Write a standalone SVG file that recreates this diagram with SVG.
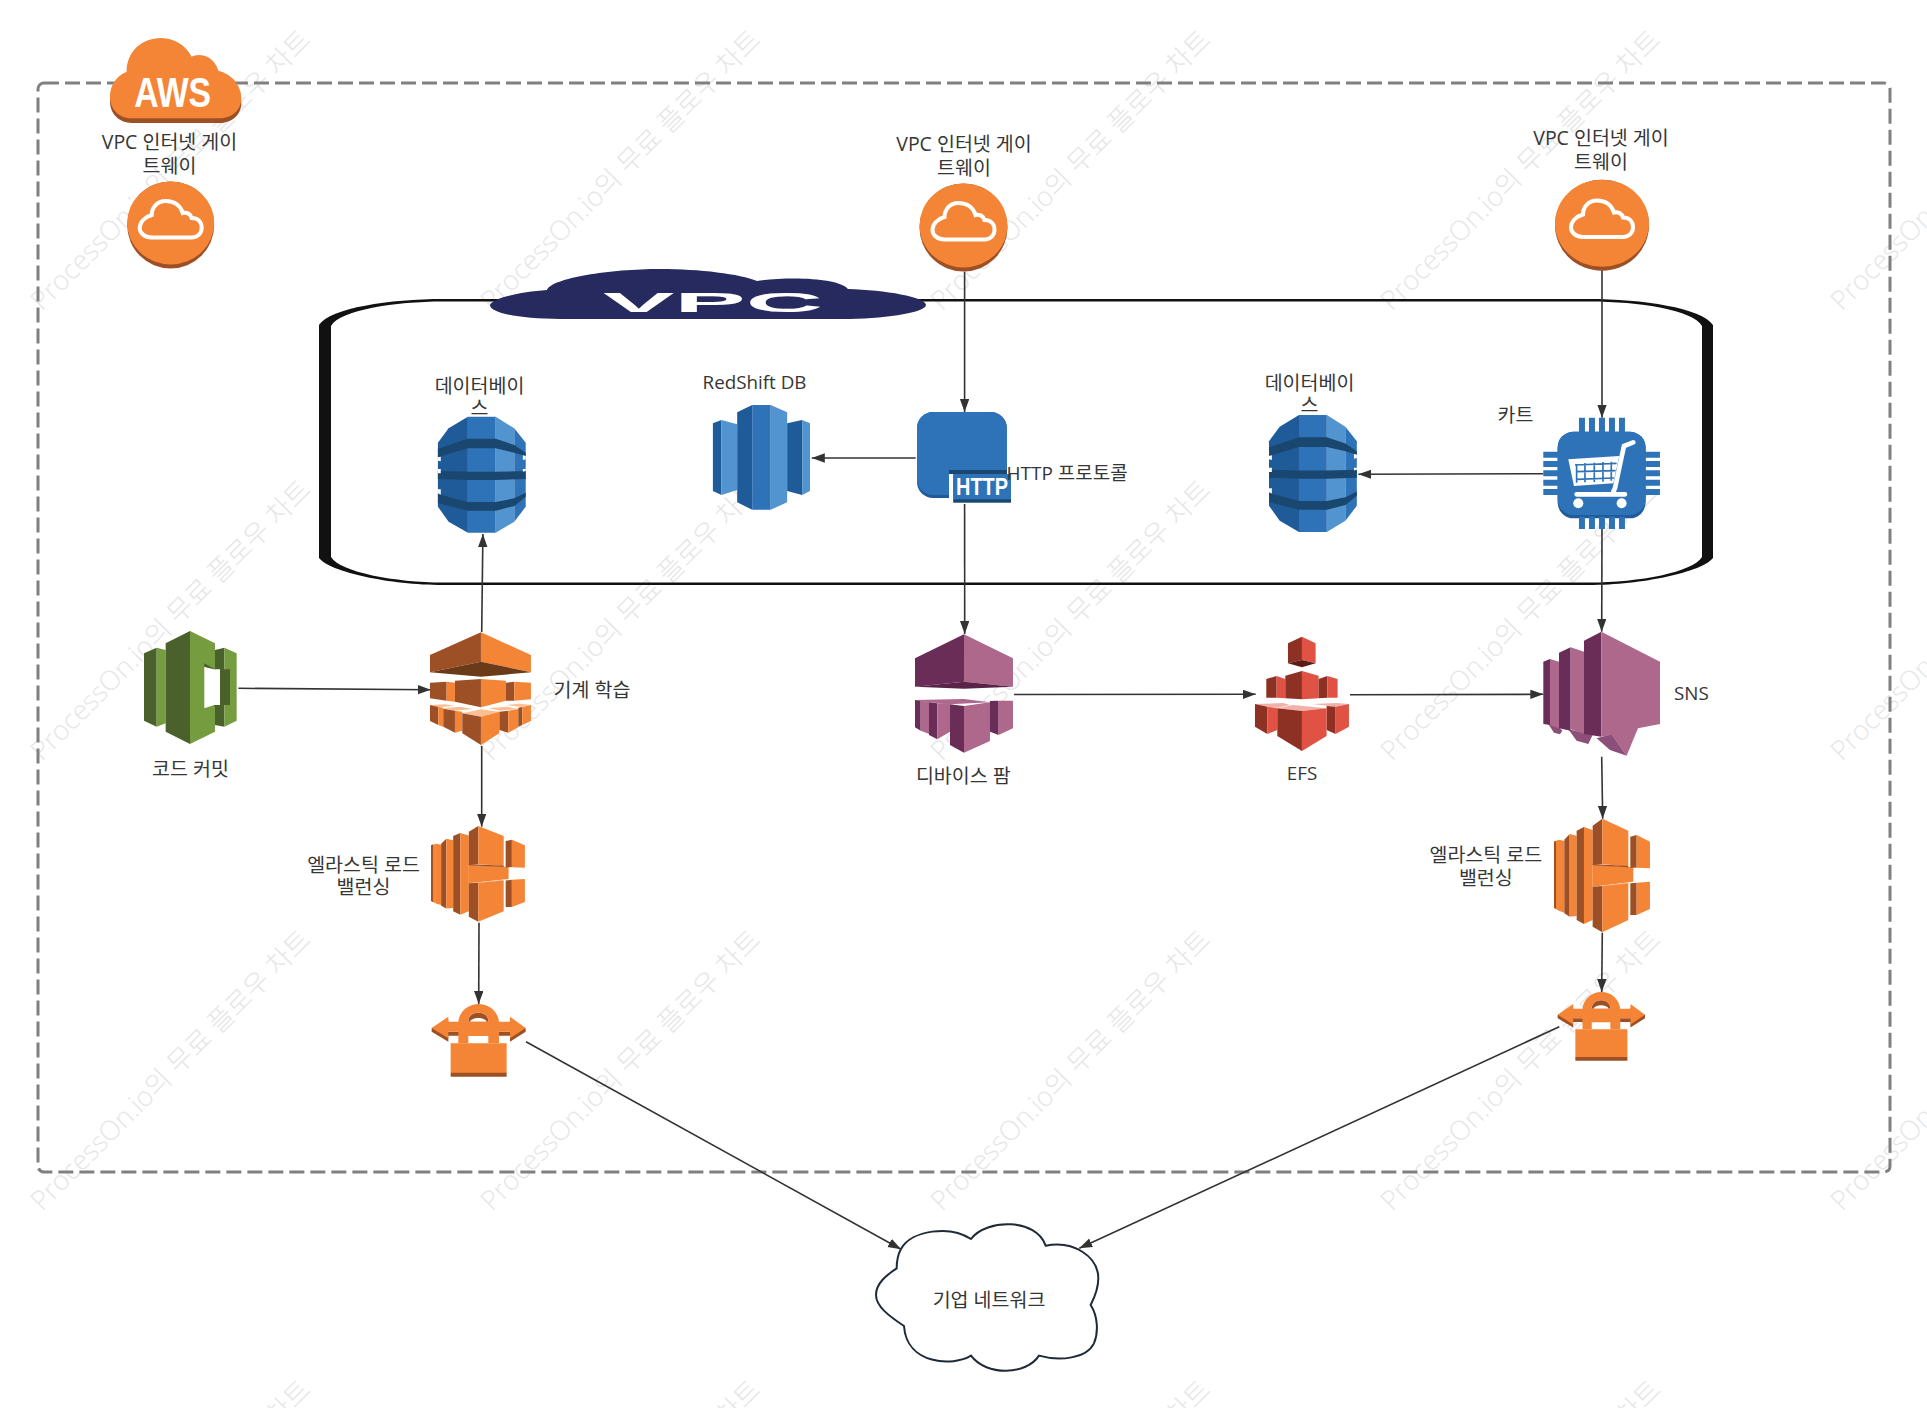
<svg xmlns="http://www.w3.org/2000/svg" width="1927" height="1408" viewBox="0 0 1927 1408">
<style>
text{font-family:"Open Sans","Noto Sans CJK KR","Noto Sans",sans-serif;font-size:19.5px;fill:#363636;text-anchor:middle}
text.lat{font-size:18.8px}
text.wm{font-size:27.2px;fill:#e6e6e6;text-anchor:start;font-weight:300}
text.s{text-anchor:start}
.conn line{stroke:#333;stroke-width:1.6;fill:none;marker-end:url(#arrow)}
.ol{fill:#F58536}.od{fill:#9D5025}.ox{fill:#6B3A19}.op{fill:#FBBF93}
.bl{fill:#5294CF}.bm{fill:#2E73B8}.bd{fill:#205B99}.bx{fill:#1A476F}
.pl{fill:#AD688B}.pd{fill:#692D57}.px{fill:#5A2348}.pt{fill:#8C4F7A}
.gl{fill:#759C3E}.gd{fill:#4B612C}
.rl{fill:#E05243}.rd{fill:#8C3123}.rx{fill:#5B1D13}.rp{fill:#F2B0A9}
.w{fill:#fff}
</style>
<defs>
<marker id="arrow" markerUnits="userSpaceOnUse" markerWidth="14" markerHeight="10" refX="13" refY="4.7" orient="auto"><path d="M0,0L13,4.7L0,9.4Z" fill="#333"/></marker>
<g id="gw-cloud"><path d="M-19,12.5H21C27,12.5 31,8 31,3C31,-3 27,-7 21,-7C20,-11 16,-13 12,-12C10,-19 4,-24 -5,-24C-14,-24 -19,-17 -19,-10C-26,-8 -31,-3 -31,3C-31,8 -26,12.5 -19,12.5Z" fill="none" stroke="#fff" stroke-width="4"/></g>
<g id="db">
<path class="bm" d="M84,0H162V348H84Z"/>
<path class="bd" d="M84,0L30,35L0,78V270L30,315L84,348Z"/>
<path class="bl" d="M162,0L214,35V315L162,348Z"/>
<path class="bm" d="M214,35L246,78V270L214,315Z"/>
<path class="bx" d="M0,96L84,66L162,66L214,85L246,108V118L214,108L162,95L84,95L0,122Z"/>
<path class="bx" d="M0,163L84,165H162L246,163V187L162,190H84L0,187Z"/>
<path class="bx" d="M0,232L84,256H162L214,245L246,228V240L214,268L162,282H84L0,260Z"/>
<path class="w" d="M0,122L8,120L8,134L0,132ZM0,157L8,157V170L0,170ZM0,218L8,218L8,234L0,230ZM246,118L238,116V130L246,128ZM246,157L238,157V165L246,163Z"/>
</g>
<g id="elb">
<path class="ol" d="M462,695L477,689L477,902L462,893Z"/>
<path class="ol" d="M477,689L493,693V908L477,902Z"/>
<path class="od" d="M468,692L462,695V893L468,897Z"/>
<path class="od" d="M493,689L509,672V920L493,910Z"/>
<path class="ol" d="M509,672L530,677V918L509,920Z"/>
<path class="od" d="M530,662L552,651V942L530,930Z"/>
<path class="ol" d="M552,651L578,660V930L552,942Z"/>
<path class="od" d="M578,647L607,626V762L578,764Z"/>
<path class="ol" d="M607,626L685,662V770L607,762Z"/>
<path class="ol" d="M578,764L700,772V815L578,830Z"/>
<path class="od" d="M578,762L685,768V772L578,766Z"/>
<path class="op" d="M578,830L685,818V821L607,829Z"/>
<path class="od" d="M578,830L607,828V967L578,950Z"/>
<path class="ol" d="M607,828L685,820V930L607,967Z"/>
<path class="od" d="M691,680L710,675V773L691,773Z"/>
<path class="ol" d="M710,675L750,695V775L710,773Z"/>
<path class="od" d="M691,820L710,818V915L691,915Z"/>
<path class="ol" d="M710,818L750,815V897L710,915Z"/>
</g>
<g id="lock">
<path class="od" d="M95,295L145,271V335L95,305ZM377,295L330,271V335L377,305ZM145,305H330V317H145Z"/>
<path class="ol" d="M95,294L145,260V275H330V260L377,294L330,325V305H145V325Z"/>
<path class="od" d="M205,275C205,255 220,248 235,248C250,248 265,255 265,275Z"/>
<path class="w" d="M210,275C216,260 254,260 260,275Z"/>
<path class="ol" fill-rule="evenodd" d="M175,340V280C175,245 205,222 236,222C267,222 297,245 297,280V340H265V318H205V340ZM205,275H265C265,255 250,248 235,248C220,248 205,255 205,275Z"/>
<path class="ol" d="M152,340H320V430H152Z"/>
<path class="od" d="M152,428H320V440H152Z"/>
</g>
</defs>

<g id="watermark">
<text class="wm" x="42" y="312" transform="rotate(-45 42 312)">ProcessOn.io의 무료 플로우 차트</text>
<text class="wm" x="492" y="312" transform="rotate(-45 492 312)">ProcessOn.io의 무료 플로우 차트</text>
<text class="wm" x="942" y="312" transform="rotate(-45 942 312)">ProcessOn.io의 무료 플로우 차트</text>
<text class="wm" x="1392" y="312" transform="rotate(-45 1392 312)">ProcessOn.io의 무료 플로우 차트</text>
<text class="wm" x="1842" y="312" transform="rotate(-45 1842 312)">ProcessOn.io의 무료 플로우 차트</text>
<text class="wm" x="42" y="762" transform="rotate(-45 42 762)">ProcessOn.io의 무료 플로우 차트</text>
<text class="wm" x="492" y="762" transform="rotate(-45 492 762)">ProcessOn.io의 무료 플로우 차트</text>
<text class="wm" x="942" y="762" transform="rotate(-45 942 762)">ProcessOn.io의 무료 플로우 차트</text>
<text class="wm" x="1392" y="762" transform="rotate(-45 1392 762)">ProcessOn.io의 무료 플로우 차트</text>
<text class="wm" x="1842" y="762" transform="rotate(-45 1842 762)">ProcessOn.io의 무료 플로우 차트</text>
<text class="wm" x="42" y="1212" transform="rotate(-45 42 1212)">ProcessOn.io의 무료 플로우 차트</text>
<text class="wm" x="492" y="1212" transform="rotate(-45 492 1212)">ProcessOn.io의 무료 플로우 차트</text>
<text class="wm" x="942" y="1212" transform="rotate(-45 942 1212)">ProcessOn.io의 무료 플로우 차트</text>
<text class="wm" x="1392" y="1212" transform="rotate(-45 1392 1212)">ProcessOn.io의 무료 플로우 차트</text>
<text class="wm" x="1842" y="1212" transform="rotate(-45 1842 1212)">ProcessOn.io의 무료 플로우 차트</text>
<text class="wm" x="42" y="1662" transform="rotate(-45 42 1662)">ProcessOn.io의 무료 플로우 차트</text>
<text class="wm" x="492" y="1662" transform="rotate(-45 492 1662)">ProcessOn.io의 무료 플로우 차트</text>
<text class="wm" x="942" y="1662" transform="rotate(-45 942 1662)">ProcessOn.io의 무료 플로우 차트</text>
<text class="wm" x="1392" y="1662" transform="rotate(-45 1392 1662)">ProcessOn.io의 무료 플로우 차트</text>
</g>

<rect id="aws-boundary" x="38" y="83" width="1852" height="1089" rx="6" fill="none" stroke="#808080" stroke-width="3" stroke-dasharray="15 6"/>

<g id="vpc-container">
<path fill="#111" fill-rule="evenodd" d="M319,325C330,308 390,299 443,299H1589C1642,299 1702,308 1713,325V558C1702,572 1642,585 1589,585H443C390,585 330,572 319,558ZM331,326C340,310 395,301.5 443,301.5H1589C1640,301.5 1693,310 1702,326V557C1693,572 1640,582.5 1589,582.5H443C395,582.5 340,572 331,557Z"/>
<path fill="#262A5F" d="M490,305C492,298 520,292 547,290C552,278 610,269 660,269C700,269 740,274 757,281C790,276 840,278 848,289C885,290 926,297 926,305C926,312 890,318 850,319H560C520,319 490,313 490,305Z"/>
<text x="713" y="312" style="font-family:'Liberation Sans',sans-serif;font-weight:700;font-size:28px;fill:#fff" textLength="220" lengthAdjust="spacingAndGlyphs">VPC</text>
</g>

<g class="conn" id="connectors">
<line x1="964.6" y1="271.7" x2="964.6" y2="412"/>
<line x1="915.7" y1="458" x2="811.8" y2="458"/>
<line x1="964.6" y1="504" x2="964.7" y2="634"/>
<line x1="1543.3" y1="473.7" x2="1358.3" y2="474.3"/>
<line x1="1602" y1="270" x2="1602" y2="417.7"/>
<line x1="1602" y1="529" x2="1601.7" y2="631.7"/>
<line x1="1601.7" y1="756.7" x2="1602.7" y2="818.7"/>
<line x1="1602.3" y1="932.7" x2="1601.7" y2="992"/>
<line x1="238.3" y1="688.3" x2="430.7" y2="689.7"/>
<line x1="481.7" y1="632" x2="482.9" y2="534"/>
<line x1="481.7" y1="746" x2="481.7" y2="826.7"/>
<line x1="479" y1="922.7" x2="478.7" y2="1004"/>
<line x1="1014" y1="694.5" x2="1255.7" y2="694.3"/>
<line x1="1350" y1="694.7" x2="1543.3" y2="694.3"/>
<line x1="526" y1="1041.7" x2="901" y2="1249.3"/>
<line x1="1559.3" y1="1026.7" x2="1079.3" y2="1248.3"/>
</g>

<g id="node-aws" transform="scale(.3333)">
<path class="od" transform="translate(0,14)" d="M380,215C380,155 425,114 483,114C525,114 560,140 575,170C590,160 640,160 655,212C695,222 724,255 724,295C724,335 690,355 660,355H395C360,355 330,330 330,290C330,255 350,228 380,215Z"/>
<path class="ol" d="M380,215C380,155 425,114 483,114C525,114 560,140 575,170C590,160 640,160 655,212C695,222 724,255 724,295C724,335 690,355 660,355H395C360,355 330,330 330,290C330,255 350,228 380,215Z"/>
<text x="518" y="320" style="font-family:'Liberation Sans',sans-serif;font-weight:700;font-size:130px;fill:#fff" textLength="231" lengthAdjust="spacingAndGlyphs">AWS</text>
</g>

<g id="node-gw1">
<circle class="od" cx="170.7" cy="225" r="43.5"/>
<ellipse class="ol" cx="170.7" cy="223" rx="43.5" ry="41.5"/>
<use href="#gw-cloud" x="170.7" y="225"/>
<text x="169.5" y="148.5">VPC 인터넷 게이</text><text x="169.5" y="172.5">트웨이</text>
</g>
<g id="node-gw2">
<circle class="od" cx="963.5" cy="227.5" r="44"/>
<ellipse class="ol" cx="963.5" cy="225.5" rx="44" ry="42"/>
<use href="#gw-cloud" x="963.5" y="227"/>
<text x="964" y="151">VPC 인터넷 게이</text><text x="964" y="174.5">트웨이</text>
</g>
<g id="node-gw3">
<ellipse class="od" cx="1602" cy="225.3" rx="47" ry="45.5"/>
<ellipse class="ol" cx="1602" cy="223.3" rx="47" ry="43.5"/>
<use href="#gw-cloud" x="1602" y="224.5"/>
<text x="1601" y="145">VPC 인터넷 게이</text><text x="1601" y="168.5">트웨이</text>
</g>

<g id="node-db1">
<use href="#db" transform="translate(437.9,416.7) scale(.357,.3333)"/>
<text x="479.5" y="393">데이터베이</text><text x="479.5" y="414.5">스</text>
</g>
<g id="node-db2">
<use href="#db" transform="translate(1269,415) scale(.357,.336)"/>
<text x="1309.5" y="389.5">데이터베이</text><text x="1309.5" y="412">스</text>
</g>

<g id="node-redshift" transform="translate(712.9,405) scale(.357,.3333)">
<path class="bd" d="M0,55L24,45V270L0,258Z"/>
<path class="bl" d="M24,45L68,58V255L24,270Z"/>
<path class="bd" d="M68,22L110,0V314L68,292Z"/>
<path class="bm" d="M110,0H162V314H110Z"/>
<path class="bl" d="M162,0L208,22V292L162,314Z"/>
<path class="bd" d="M208,55L250,45V270L208,258Z"/>
<path class="bl" d="M250,45L272,55V258L250,270Z"/>
</g>
<text id="label-redshift" class="lat" x="754.5" y="389.3">RedShift DB</text>

<g id="node-http">
<rect class="bd" x="917" y="412" width="89.8" height="86" rx="16"/>
<rect class="bm" x="917" y="412" width="89.8" height="83" rx="16"/>
<rect class="bx" x="949" y="470" width="58" height="4"/>
<rect class="w" x="949" y="474" width="4.2" height="24"/>
<rect class="bm" x="953.2" y="474" width="57.8" height="26"/>
<rect class="bx" x="953.2" y="499.3" width="57.8" height="3.4"/>
<text x="982" y="495" style="font-family:'Liberation Sans',sans-serif;font-weight:700;font-size:23.5px;fill:#fff" textLength="52" lengthAdjust="spacingAndGlyphs">HTTP</text>
<text class="s" x="1006.5" y="480.2" style="font-size:19px">HTTP 프로토콜</text>
</g>

<g id="node-cart">
<g class="bm" transform="translate(1200,360) scale(.3333)">
<rect x="1073" y="215" width="264" height="260" rx="48" class="bd"/>
<rect x="1073" y="215" width="264" height="250" rx="48"/>
<path d="M1137,173h18v45h-18zM1167,173h18v45h-18zM1197,173h18v45h-18zM1227,173h18v45h-18zM1257,173h18v45h-18zM1137,470h18v37h-18zM1167,470h18v37h-18zM1197,470h18v37h-18zM1227,470h18v37h-18zM1257,470h18v37h-18zM1030,275h45v18h-45zM1030,303h45v18h-45zM1030,331h45v18h-45zM1030,359h45v18h-45zM1030,387h45v18h-45zM1335,275h45v18h-45zM1335,303h45v18h-45zM1335,331h45v18h-45zM1335,359h45v18h-45zM1335,387h45v18h-45z"/>
<path class="w" d="M1105,298L1258,288L1240,370L1122,378Z"/>
<path d="M1125,315L1250,310M1128,335L1247,332M1130,358L1242,354M1130,312V368M1155,310V367M1183,308V366M1209,306V365M1234,305V362" fill="none" stroke="#2E73B8" stroke-width="5"/>
<path d="M1300,247L1272,258L1245,385L1240,395M1130,403H1275" fill="none" stroke="#fff" stroke-width="14" stroke-linecap="round"/>
<circle class="w" cx="1135" cy="430" r="15"/><circle class="w" cx="1265" cy="430" r="15"/>
</g>
<text x="1515.5" y="421.7">카트</text>
</g>

<g id="node-codecommit" transform="translate(120,610) scale(.3333)">
<path class="gd" d="M72,130L110,113V350L72,332Z"/>
<path class="gl" d="M110,113L137,120V340L110,350Z"/>
<path class="gd" d="M137,100L210,63V402L137,365Z"/>
<path class="gl" d="M210,63L285,100V365L210,402Z"/>
<path class="gd" d="M285,120L313,113V350L285,345Z"/>
<path class="gl" d="M313,113L350,130V332L313,350Z"/>
<path class="w" d="M253,170L283,178H300V285H283L253,295Z"/>
<path class="gd" d="M253,160L285,178H330V285H283V290L300,285V178H283L253,170Z"/>
</g>
<text id="label-codecommit" x="190.5" y="775.5">코드 커밋</text>

<g id="node-ml" transform="translate(120,610) scale(.3333)">
<path class="od" d="M930,135L1083,67V155L930,187Z"/>
<path class="ol" d="M1083,67L1233,135V187L1083,155Z"/>
<path class="ox" d="M930,187L1083,155L1233,187L1083,200Z"/>
<path class="od" d="M930,218L980,215V272L930,265Z"/><path class="ol" d="M980,215L1005,218V275L980,272Z"/>
<path class="od" d="M1005,212L1083,207V292L1005,275Z"/><path class="ol" d="M1083,207L1158,212V272L1083,292Z"/>
<path class="od" d="M1158,218L1183,215V272L1158,272Z"/><path class="ol" d="M1183,215L1233,218V268L1183,272Z"/>
<path class="op" d="M930,285L975,283L1005,288L955,292ZM970,295L1020,290L1060,297L1005,302ZM1105,295L1160,290L1195,297L1140,302ZM1160,285L1200,281L1233,285L1205,291Z"/>
<path class="od" d="M930,285L955,291V345L930,333Z"/><path class="ol" d="M955,291L970,293V350L955,345Z"/>
<path class="od" d="M970,296L1005,302V368L970,350Z"/><path class="ol" d="M1005,302L1027,305V362L1005,368Z"/>
<path class="od" d="M1138,305L1165,302V368L1138,360Z"/><path class="ol" d="M1165,302L1195,297V352L1165,368Z"/>
<path class="od" d="M1195,293L1207,291V345L1195,350Z"/><path class="ol" d="M1207,291L1233,285V333L1207,345Z"/>
<path class="op" d="M1027,310L1083,298L1138,305L1083,320Z"/>
<path class="od" d="M1027,310L1083,320V405L1027,370Z"/><path class="ol" d="M1083,320L1138,305V370L1083,405Z"/>
</g>
<text id="label-ml" x="592" y="697">기계 학습</text>

<g id="node-elb1">
<use href="#elb" transform="translate(280.4,650.3) scale(.326,.2806)"/>
<text x="363.5" y="872">엘라스틱 로드</text><text x="363.5" y="894.3">밸런싱</text>
</g>
<g id="node-elb2">
<use href="#elb" transform="translate(1400,610) scale(.3333)"/>
<text x="1485.8" y="862">엘라스틱 로드</text><text x="1485.8" y="884.5">밸런싱</text>
</g>
<g id="node-lock1"><use href="#lock" transform="translate(400,930) scale(.3333)"/></g>
<g id="node-lock2"><use href="#lock" transform="translate(1528.3,922.1) scale(.3096,.315)"/></g>

<g id="node-devicefarm" transform="translate(880,610) scale(.3333)">
<path class="pd" d="M105,145L252,73V215L105,230Z"/>
<path class="pl" d="M252,73L399,145V230L252,215Z"/>
<path class="px" d="M105,230L252,215L399,230L252,236Z"/>
<path class="pl" d="M105,270L252,267L330,277L210,283L148,277Z"/>
<path class="pd" d="M105,270L122,272V362L105,352Z"/><path class="pl" d="M122,272L148,275V372L122,362Z"/>
<path class="pd" d="M147,277L172,280V388L147,375Z"/><path class="pl" d="M172,280L210,280V365L172,388Z"/>
<path class="pd" d="M210,283L252,288V428L210,405Z"/><path class="pl" d="M252,288L330,277V393L252,428Z"/>
<path class="pd" d="M330,273L356,272V375L330,365Z"/><path class="pl" d="M356,272H399V355L356,375Z"/>
</g>
<text id="label-devicefarm" x="963.3" y="782.7">디바이스 팜</text>

<g id="node-efs" transform="translate(880,610) scale(.3333)">
<path class="rd" d="M1224,100L1266,80V150L1224,160Z"/><path class="rl" d="M1266,80L1307,100V160L1266,150Z"/>
<path class="rx" d="M1224,160L1266,150L1307,160L1266,172Z"/>
<path class="rd" d="M1159,207L1190,198V263H1159Z"/><path class="rl" d="M1190,198L1216,207V265L1190,263Z"/>
<path class="rd" d="M1216,197L1266,183V268L1216,265Z"/><path class="rl" d="M1266,183L1316,197V265L1266,268Z"/>
<path class="rd" d="M1316,207L1342,198V263L1316,265Z"/><path class="rl" d="M1342,198L1373,207V263H1342Z"/>
<path class="rp" d="M1125,282L1210,279L1230,285L1192,293L1162,290Z"/>
<path class="rd" d="M1125,282L1162,290V372L1125,350Z"/><path class="rl" d="M1162,290L1192,295V360L1162,372Z"/>
<path class="rp" d="M1297,282L1370,279L1407,282L1367,290Z"/>
<path class="rd" d="M1340,288L1367,290V372L1340,360Z"/><path class="rl" d="M1367,290L1407,282V350L1367,372Z"/>
<path class="rp" d="M1192,295L1240,285L1340,295L1266,303Z"/>
<path class="rd" d="M1192,295L1266,303V423L1192,378Z"/><path class="rl" d="M1266,303L1340,295V378L1266,423Z"/>
</g>
<text id="label-efs" class="lat" x="1302" y="780">EFS</text>

<g id="node-sns" transform="translate(1400,610) scale(.3333)">
<path class="pt" d="M445,342L477,352L487,362L480,373L462,368Z"/>
<path class="pd" d="M430,155L450,147V345L430,342Z"/><path class="pl" d="M450,147L477,155V355L450,345Z"/>
<path class="pt" d="M505,358L578,375L565,402L530,392Z"/>
<path class="pd" d="M477,128L512,112V362L477,355Z"/><path class="pl" d="M512,112L552,125V372L512,358Z"/>
<path class="pt" d="M590,385L635,373L680,437L630,420Z"/>
<path class="pd" d="M552,92L604,65V380L552,372Z"/>
<path class="pl" d="M604,65L780,155V342L714,355L680,437L635,375L604,380Z"/>
</g>
<text id="label-sns" class="s lat" x="1674" y="700">SNS</text>

<g id="node-enterprise">
<path transform="translate(840,1180) scale(.3333)" d="M183,207C215,150 330,135 393,177C440,115 590,115 617,197C700,180 775,230 775,295C775,325 765,350 752,375C775,410 775,460 762,490C740,535 660,545 597,527C560,585 440,590 393,527C340,560 200,555 192,438C150,410 108,380 108,345C108,310 140,285 170,265C170,245 173,225 183,207Z" fill="#fff" stroke="#1F2A36" stroke-width="6"/>
<text x="989" y="1307">기업 네트워크</text>
</g>
</svg>
